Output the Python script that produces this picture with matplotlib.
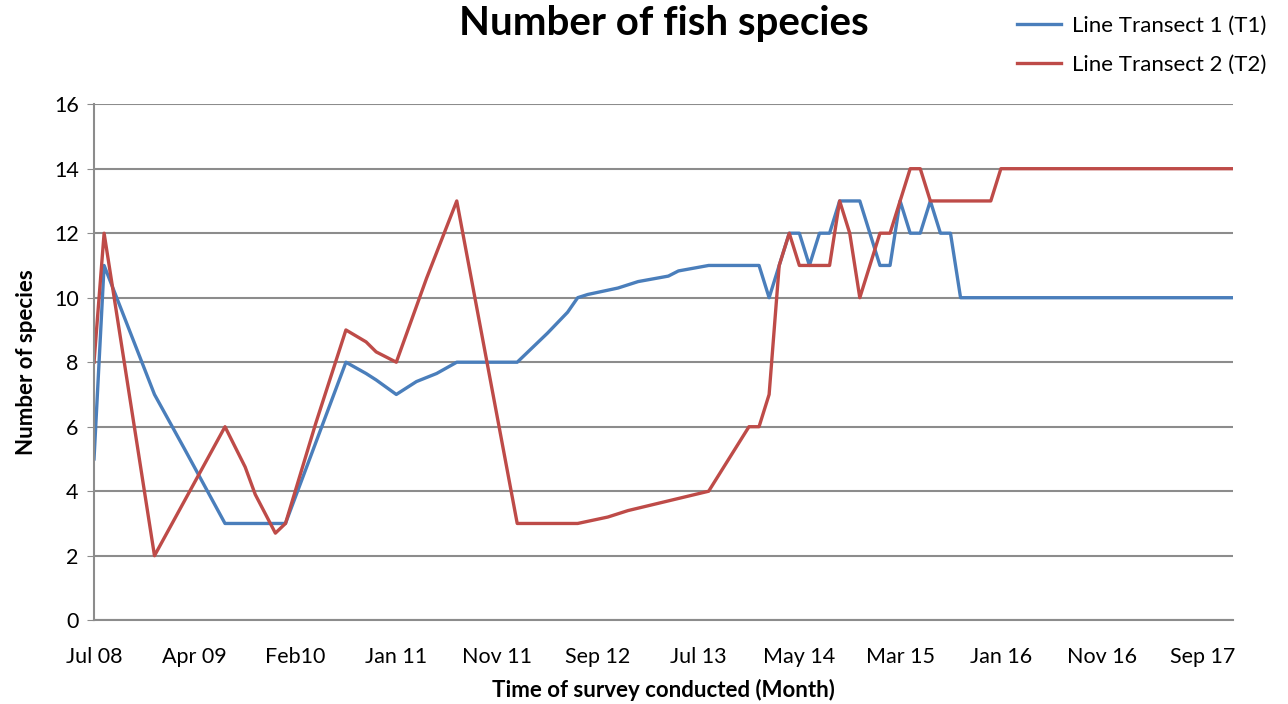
import matplotlib.pyplot as plt

# category labels shown on the x axis (every 10th survey)
tick_labels = ['Jul 08', 'Apr 09', 'Feb10', 'Jan 11', 'Nov 11', 'Sep 12',
               'Jul 13', 'May 14', 'Mar 15', 'Jan 16', 'Nov 16', 'Sep 17']
n_surveys = 114

# survey index -> number of species (points where the line changes direction)
t1_idx = [0, 1, 6, 9, 13, 19, 25, 27, 28, 30, 32, 34, 36, 42, 45, 47, 48, 49, 52, 54,
          57, 58, 61, 66, 67, 68, 69, 70, 71, 72, 73, 74, 76, 78, 79, 80, 81, 82, 83,
          84, 85, 86, 113]
t1_val = [5, 11, 7, 5.3, 3, 3, 8, 7.65, 7.45, 7, 7.4, 7.65, 8, 8, 8.9, 9.55, 10, 10.1,
          10.3, 10.5, 10.67, 10.83, 11, 11, 10, 11, 12, 12, 11, 12, 12, 13, 13, 11, 11,
          13, 12, 12, 13, 12, 12, 10, 10]

t2_idx = [0, 1, 6, 13, 15, 16, 18, 19, 22, 25, 27, 28, 30, 33, 36, 42, 48, 51, 53, 55,
          57, 59, 61, 65, 66, 67, 68, 69, 70, 73, 74, 75, 76, 78, 79, 81, 82, 83, 89,
          90, 113]
t2_val = [8, 12, 2, 6, 4.75, 3.9, 2.7, 3, 6.1, 9, 8.63, 8.32, 8, 10.6, 13, 3, 3, 3.2,
          3.4, 3.55, 3.7, 3.85, 4, 6, 6, 7, 11, 12, 11, 11, 13, 12, 10, 12, 12, 14, 14,
          13, 13, 14, 14]

plt.rcParams['font.family'] = ['Lato', 'DejaVu Sans']

fig = plt.figure(figsize=(12.88, 7.04), dpi=100)
ax = fig.add_axes([0.073, 0.119, 0.884, 0.733])

ax.plot(t1_idx, t1_val, color='#4a7ebb', lw=2.4, label='Line Transect 1 (T1)')
ax.plot(t2_idx, t2_val, color='#be4b48', lw=2.4, label='Line Transect 2 (T2)')

ax.set_xlim(0, n_surveys - 1)
ax.set_ylim(0, 16)
ax.set_yticks(range(0, 17, 2))
ax.set_xticks(range(0, 10 * len(tick_labels), 10))
ax.set_xticklabels(tick_labels)
ax.tick_params(axis='x', length=0, labelsize=15.5, pad=19)
ax.tick_params(axis='y', length=5, color='#8c8c8c', labelsize=15.5, pad=6)
ax.grid(axis='y', color='#8c8c8c', lw=1.5)
ax.set_axisbelow(True)
for s in ['top', 'right']:
    ax.spines[s].set_visible(False)
for s in ['left', 'bottom']:
    ax.spines[s].set_color('#8c8c8c')
    ax.spines[s].set_linewidth(1.5)

ax.set_xlabel('Time of survey conducted (Month)', fontsize=16, fontweight='bold', labelpad=9)
ax.set_ylabel('Number of species', fontsize=16, fontweight='bold', labelpad=12)
fig.text(0.515, 0.967, 'Number of fish species', ha='center', va='center',
         fontsize=29, fontweight='bold')
fig.legend(loc='upper right', bbox_to_anchor=(0.999, 1.006), frameon=False,
           fontsize=16, handlelength=2.0, handletextpad=0.5, labelspacing=0.85)

fig.savefig('out.png', dpi=100)
